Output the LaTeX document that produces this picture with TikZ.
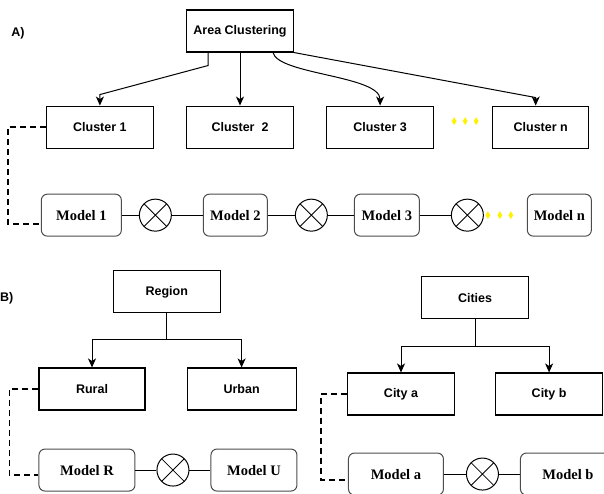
\documentclass[tikz,border=0pt]{standalone}
\usepackage{fontspec}
\setmainfont{Liberation Serif}
\setsansfont{Liberation Sans}
\usetikzlibrary{positioning,calc,arrows.meta,shapes.geometric}
\tikzset{abstract/.style={rectangle, draw=black, line width=1.1pt,
    minimum width=107pt, minimum height=42pt, inner sep=2pt,
    text centered, font=\sffamily\bfseries\fontsize{12.5}{15}\selectfont},
  model/.style={rectangle, draw=black!70, line width=1pt, rounded corners=6pt,
    fill=white, minimum height=42pt, inner sep=2pt,
    text centered, font=\rmfamily\bfseries\fontsize{14.5}{17}\selectfont},
  mult/.style={circle, draw=black, line width=1pt, minimum size=32pt, inner sep=0pt,
    path picture={\draw[line width=0.8pt]
      (path picture bounding box.north west) -- (path picture bounding box.south east)
      (path picture bounding box.north east) -- (path picture bounding box.south west);}},
  myarrow/.style={-{Stealth[length=9pt,width=8pt,inset=2.5pt]}, line width=1pt},
  line/.style={-, line width=1pt},
  dashline/.style={-, line width=1.6pt, dash pattern=on 6pt off 4pt},
  ydot/.style={diamond, fill=yellow, inner sep=0pt, minimum width=5pt, minimum height=8pt},
  panel/.style={font=\sffamily\bfseries\fontsize{12.5}{15}\selectfont}
}

\begin{document}
\begin{tikzpicture}[x=1pt,y=1pt]

   \useasboundingbox (0,0) rectangle (604,-493);

   %Panel labels
   \node (Label-A) [panel] at (18,-33) {A)};
   \node (Label-B) [panel, anchor=west, inner sep=0pt] at (0,-298) {B)};

   %Area clustering and its clusters
   \node (Area) [abstract] at (240,-31) {Area Clustering};
   \node (Cluster-2) [abstract, below=53pt of Area] {Cluster\ \ 2};
   \node (Cluster-1) [abstract, left=32pt of Cluster-2] {Cluster 1};
   \node (Cluster-3) [abstract, right=32pt of Cluster-2] {Cluster 3};
   \node (Cluster-n) [abstract, minimum width=96pt, right=58pt of Cluster-3] {Cluster n};

   %Models of the clusters
   \node (Model-1) [model, minimum width=80pt, below=45pt of Cluster-1.south west,
   anchor=north west, xshift=-5pt] {Model 1};
   \node (Mult-1) [mult, right=17pt of Model-1] {};
   \node (Model-2) [model, minimum width=64pt, right=31pt of Mult-1] {Model 2};
   \node (Mult-2) [mult, right=27pt of Model-2] {};
   \node (Model-3) [model, minimum width=65pt, right=26pt of Mult-2] {Model 3};
   \node (Mult-3) [mult, right=31pt of Model-3] {};
   \node (Model-n) [model, minimum width=64pt, right=43pt of Mult-3] {Model n};

   %Yellow dots
   \foreach \i/\dx in {1/20,2/31,3/42}
      \node (Dot-Top-\i) [ydot] at ($(Cluster-3.east)+(\dx,6)$) {};
   \foreach \i/\dx in {1/4,2/16,3/27}
      \node (Dot-Bot-\i) [ydot] at ($(Mult-3.east)+(\dx,0)$) {};

   \draw[myarrow] ([xshift=-32pt]Area.south) -- ++(0,-13) -- ([yshift=11pt]Cluster-1.north)
   -- (Cluster-1.north);
   \draw[myarrow] (Area.south) -- (Cluster-2.north);
   \draw[myarrow] ([xshift=33pt]Area.south) .. controls +(5,-22) and +(0,30) .. (Cluster-3.north);
   \draw[myarrow] (Area.south east) -- ([xshift=-5pt,yshift=8pt]Cluster-n.north)
   -- ([xshift=-5pt]Cluster-n.north);

   \draw[line] (Model-1) -- (Mult-1) -- (Model-2) -- (Mult-2) -- (Model-3) -- (Mult-3);
   \draw[dashline] (Cluster-1.west) -- ++(-38,0) |- ([yshift=-9pt]Model-1.west);

   %Region, rural and urban
   \node (Rural) [abstract, minimum width=106pt] at (92,-389) {Rural};
   \node (Urban) [abstract, minimum width=109pt, right=41pt of Rural] {Urban};
   \node (Region) [abstract, above=54pt of $(Rural.north)!0.5!(Urban.north)$] {Region};
   \node (Model-R) [model, minimum width=96pt, below=38pt of Rural.south west,
   anchor=north west] {Model R};
   \node (Mult-R) [mult, right=21pt of Model-R] {};
   \node (Model-U) [model, minimum width=86pt, right=21pt of Mult-R] {Model U};

   \draw[myarrow] (Region.south) -- ++(0,-26) -| (Rural.north);
   \draw[myarrow] (Region.south) -- ++(0,-26) -| (Urban.north);
   \draw[line] (Model-R) -- (Mult-R) -- (Model-U);
   \draw[dashline] (Rural.west) -- ++(-29,0) |- ([yshift=-5pt]Model-R.west);

   %Cities
   \node (City-a) [abstract] at (401,-394) {City a};
   \node (City-b) [abstract, right=40pt of City-a] {City b};
   \node (Cities) [abstract, above=53pt of $(City-a.north)!0.5!(City-b.north)$] {Cities};
   \node (Model-a) [model, minimum width=95pt, below=37pt of City-a.south west,
   anchor=north west, xshift=1pt] {Model a};
   \node (Mult-a) [mult, right=22pt of Model-a] {};
   \node (Model-b) [model, minimum width=95pt, right=21pt of Mult-a] {Model b};

   \draw[myarrow] (Cities.south) -- ++(0,-27) -| (City-a.north);
   \draw[myarrow] (Cities.south) -- ++(0,-27) -| (City-b.north);
   \draw[line] (Model-a) -- (Mult-a) -- (Model-b);
   \draw[dashline] (City-a.west) -- ++(-26,0) |- ([yshift=-6pt]Model-a.west);

\end{tikzpicture}
\end{document}
